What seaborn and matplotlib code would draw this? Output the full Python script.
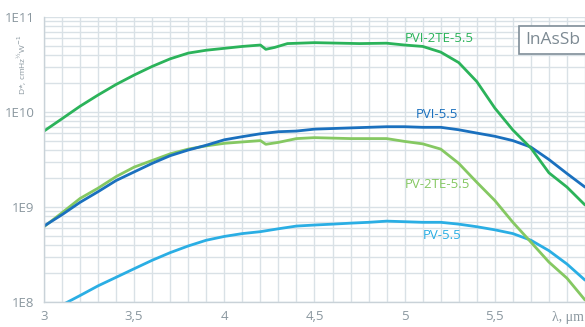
import numpy as np
import pandas as pd
import matplotlib
matplotlib.use("Agg")
import matplotlib.pyplot as plt
import matplotlib.ticker as mticker
import seaborn as sns

# -----------------------------
# DATA
# -----------------------------
x_pvi2te = [3.0, 3.1, 3.2, 3.3, 3.4, 3.5, 3.6, 3.7, 3.8, 3.9, 4.0, 4.1, 4.2, 4.23, 4.28,
            4.35, 4.5, 4.75, 4.9, 5.0, 5.1, 5.2, 5.3, 5.4, 5.5, 5.6, 5.7, 5.8, 5.9, 6.0]
y_pvi2te = [6.3e9, 8.5e9, 1.15e10, 1.51e10, 1.95e10, 2.45e10, 3.02e10, 3.63e10, 4.17e10, 4.47e10,
            4.68e10, 4.9e10, 5.07e10, 4.57e10, 4.79e10, 5.25e10, 5.37e10, 5.25e10, 5.3e10, 5.07e10,
            4.9e10, 4.27e10, 3.31e10, 2.09e10, 1.1e10, 6.46e9, 4.17e9, 2.29e9, 1.62e9, 1.05e9]

x_pvi = [3.0, 3.1, 3.2, 3.3, 3.4, 3.5, 3.6, 3.7, 3.8, 3.9, 4.0, 4.1, 4.2, 4.3, 4.4, 4.5,
         4.6, 4.7, 4.8, 4.9, 5.0, 5.1, 5.2, 5.3, 5.4, 5.5, 5.6, 5.7, 5.8, 5.9, 6.0]
y_pvi = [6.3e8, 8.3e8, 1.12e9, 1.45e9, 1.9e9, 2.34e9, 2.88e9, 3.47e9, 3.98e9, 4.47e9, 5.1e9,
         5.5e9, 5.9e9, 6.2e9, 6.3e9, 6.6e9, 6.7e9, 6.8e9, 6.9e9, 7.0e9, 7.0e9, 6.9e9, 6.9e9,
         6.5e9, 6.0e9, 5.55e9, 5.0e9, 4.27e9, 3.16e9, 2.25e9, 1.62e9]

x_pv2te = [3.0, 3.1, 3.2, 3.3, 3.4, 3.5, 3.6, 3.7, 3.8, 3.9, 4.0, 4.1, 4.2, 4.23, 4.3,
           4.4, 4.5, 4.7, 4.9, 5.0, 5.1, 5.2, 5.3, 5.4, 5.5, 5.6, 5.7, 5.8, 5.9, 6.0]
y_pv2te = [6.2e8, 8.7e8, 1.23e9, 1.58e9, 2.09e9, 2.63e9, 3.09e9, 3.63e9, 4.07e9, 4.4e9, 4.68e9,
           4.84e9, 5.0e9, 4.57e9, 4.79e9, 5.25e9, 5.37e9, 5.25e9, 5.25e9, 4.9e9, 4.62e9, 4.07e9,
           2.88e9, 1.82e9, 1.17e9, 6.9e8, 4.27e8, 2.63e8, 1.78e8, 1.05e8]

x_pv = [3.0, 3.1, 3.2, 3.3, 3.4, 3.5, 3.6, 3.7, 3.8, 3.9, 4.0, 4.1, 4.2, 4.3, 4.4, 4.5,
        4.6, 4.7, 4.8, 4.9, 5.0, 5.1, 5.2, 5.3, 5.4, 5.5, 5.6, 5.7, 5.8, 5.9, 6.0]
y_pv = [7.4e7, 9.3e7, 1.17e8, 1.48e8, 1.82e8, 2.24e8, 2.75e8, 3.31e8, 3.89e8, 4.47e8, 4.9e8,
        5.25e8, 5.5e8, 5.9e8, 6.3e8, 6.46e8, 6.6e8, 6.76e8, 6.9e8, 7.1e8, 7.0e8, 6.9e8, 6.9e8,
        6.6e8, 6.2e8, 5.75e8, 5.25e8, 4.47e8, 3.47e8, 2.51e8, 1.7e8]

series_names = ["PVI-2TE-5.5", "PVI-5.5", "PV-2TE-5.5", "PV-5.5"]
colors = {"PVI-2TE-5.5": "#2bb35a", "PVI-5.5": "#1a70be",
          "PV-2TE-5.5": "#85c862", "PV-5.5": "#2aaee4"}

x_ticks = [3.0, 3.5, 4.0, 4.5, 5.0, 5.5]
x_tick_labels = ["3", "3,5", "4", "4,5", "5", "5,5"]
y_ticks = [1e8, 1e9, 1e10, 1e11]
y_tick_labels = ["1E8", "1E9", "1E10", "1E11"]

df = pd.concat([
    pd.DataFrame({"wl": x_pvi2te, "D": y_pvi2te, "det": "PVI-2TE-5.5"}),
    pd.DataFrame({"wl": x_pvi, "D": y_pvi, "det": "PVI-5.5"}),
    pd.DataFrame({"wl": x_pv2te, "D": y_pv2te, "det": "PV-2TE-5.5"}),
    pd.DataFrame({"wl": x_pv, "D": y_pv, "det": "PV-5.5"}),
], ignore_index=True)

# -----------------------------
# PLOT
# -----------------------------
sns.set_style("white")
plt.rcParams["font.family"] = ["Open Sans", "DejaVu Sans"]

grey = "#8a979f"
grid_c = "#d9e1e6"

fig = plt.figure(figsize=(5.85, 3.27), dpi=100)
ax = fig.add_axes([44 / 585, 25 / 327, 541 / 585, 285 / 327])

ax.set_yscale("log")
ax.set_xlim(3.0, 6.0)
ax.set_ylim(1e8, 1e11)

# grid: every 0.1 um and every log minor step
ax.set_xticks(np.arange(3.0, 6.01, 0.1), minor=True)
ax.yaxis.set_minor_locator(mticker.LogLocator(base=10, subs=np.arange(2, 10)))
ax.grid(True, which="both", color=grid_c, lw=1.0)
ax.set_axisbelow(True)

sns.lineplot(data=df, x="wl", y="D", hue="det", hue_order=series_names[::-1],
             palette=colors, lw=2.0, legend=False, ax=ax, estimator=None, sort=False)

ax.set_xticks(x_ticks)
ax.set_xticklabels(x_tick_labels)
ax.set_yticks(y_ticks)
ax.set_yticklabels(y_tick_labels)
ax.yaxis.set_minor_formatter(mticker.NullFormatter())
ax.tick_params(axis="both", which="both", length=0, colors=grey, labelsize=9.5)
ax.tick_params(axis="x", pad=6)
ax.tick_params(axis="y", pad=7)

for s in ["top", "right"]:
    ax.spines[s].set_visible(False)
for s in ["left", "bottom"]:
    ax.spines[s].set_color("#c9d2d8")
    ax.spines[s].set_linewidth(1.0)

ax.set_xlabel("")
ax.set_ylabel("")

# curve labels
label_pos = {"PVI-2TE-5.5": (5.19, 6.0e10), "PVI-5.5": (5.18, 9.3e9),
             "PV-2TE-5.5": (5.18, 1.74e9), "PV-5.5": (5.21, 5.0e8)}
for name in series_names:
    lx, ly = label_pos[name]
    ax.text(lx, ly, name, color=colors[name], fontsize=9.5, ha="center", va="center")

# material box
ax.text(0.94, 0.92, "InAsSb", transform=ax.transAxes, fontsize=12.5, color="#7d8a93",
        ha="center", va="center",
        bbox=dict(boxstyle="square,pad=0.35", fc="white", ec="#7f8e98", lw=1.2))

# axis titles
fig.text(584 / 585, 1 - 317 / 327, "λ, μm", fontsize=10, color=grey, ha="right",
         va="center", family=["Liberation Serif", "DejaVu Serif"])
fig.text(22 / 585, 1 - 65 / 327, "D*, cmHz$^{½}$W$^{-1}$", fontsize=6, color=grey,
         rotation=90, ha="center", va="center")

plt.savefig("out.png", dpi=100)
